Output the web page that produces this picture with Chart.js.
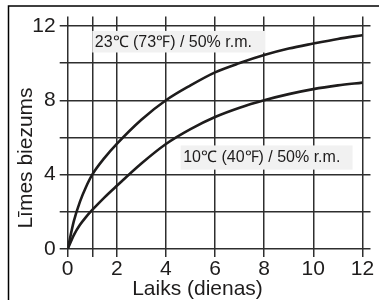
<!DOCTYPE html>
<html><head><meta charset="utf-8">
<script src="https://cdn.jsdelivr.net/npm/chart.js@4/dist/chart.umd.min.js"></script>
<style>html,body{margin:0;padding:0;background:#fff}#wrap{position:relative;width:379px;height:300px}</style>
</head><body><div id="wrap"><canvas id="c" width="379" height="300"></canvas></div>
<script>
const days = [0,0.25,0.5,0.75,1,1.5,2,3,4,5,6,7,8,9,10,11,12];
const warm = [0,1.5,2.55,3.35,4.0,4.9,5.65,6.95,8.0,8.8,9.5,10.0,10.43,10.78,11.05,11.3,11.5];
const cold = [0,0.75,1.3,1.73,2.1,2.78,3.4,4.6,5.65,6.45,7.1,7.6,8.0,8.33,8.6,8.8,8.95];
const xTicks = [0,1,2,4,6,8,10,12];
const xLabels = ['0','','2','4','6','8','10','12'];
const yTicks = [0,2,4,6,8,10,12];
const yLabels = ['0','','4','','8','','12'];
const seriesLabels = ['23\u2103 (73\u2109) / 50% r.m.','10\u2103 (40\u2109) / 50% r.m.'];
const xTitle = 'Laiks (dienas)';
const yTitle = 'Līmes biezums';

const FONT = '"Liberation Sans", Arial, sans-serif';
const INK = '#1e1c1c';

const deco = {
  id: 'deco',
  beforeDraw(chart) {
    const ctx = chart.ctx;
    ctx.save();
    ctx.fillStyle = '#fff';
    ctx.fillRect(0, 0, chart.width, chart.height);
    ctx.strokeStyle = '#000';
    ctx.lineWidth = 1.5;
    ctx.beginPath();
    ctx.moveTo(8.5, chart.height);
    ctx.lineTo(8.5, 6);
    ctx.lineTo(chart.width, 6);
    ctx.stroke();
    ctx.restore();
  },
  beforeDatasetsDraw(chart) {
    const ctx = chart.ctx, xs = chart.scales.x, ys = chart.scales.y;
    const boxes = [
      {x0: 1, x1: 8.05, y0: 11.73, y1: 10.57, t: seriesLabels[0]},
      {x0: 4.6, x1: 11.6, y0: 5.57, y1: 4.27, t: seriesLabels[1]}
    ];
    ctx.save();
    boxes.forEach(b => {
      const l = xs.getPixelForValue(b.x0), r = xs.getPixelForValue(b.x1);
      const t = ys.getPixelForValue(b.y0), bt = ys.getPixelForValue(b.y1);
      ctx.fillStyle = '#f1f1f1';
      ctx.fillRect(l, t, r - l, bt - t);
      ctx.fillStyle = INK;
      ctx.font = '16px ' + FONT;
      ctx.textAlign = 'left';
      ctx.textBaseline = 'middle';
      ctx.fillText(b.t, l + 2.5, (t + bt) / 2 + 0.5);
    });
    ctx.restore();
  },
  afterDraw(chart) {
    const ctx = chart.ctx;
    ctx.save();
    ctx.fillStyle = INK;
    ctx.font = '21px ' + FONT;
    ctx.textAlign = 'center';
    ctx.textBaseline = 'alphabetic';
    ctx.fillText(xTitle, 197.5, 294.5);
    ctx.translate(31.5, 158);
    ctx.rotate(-Math.PI / 2);
    ctx.fillText(yTitle, 0, 0);
    ctx.restore();
  }
};

const mk = arr => days.map((d, i) => ({x: d, y: arr[i]}));

new Chart(document.getElementById('c'), {
  type: 'line',
  data: {
    datasets: [
      {label: seriesLabels[0], data: mk(warm), borderColor: INK, borderWidth: 2.6, pointRadius: 0, cubicInterpolationMode: 'monotone', fill: false},
      {label: seriesLabels[1], data: mk(cold), borderColor: INK, borderWidth: 2.6, pointRadius: 0, cubicInterpolationMode: 'monotone', fill: false}
    ]
  },
  options: {
    responsive: false,
    animation: false,
    devicePixelRatio: 1,
    layout: {padding: {left: 0, right: 8.5, top: 15.7, bottom: 0}},
    plugins: {legend: {display: false}, tooltip: {enabled: false}},
    scales: {
      x: {
        type: 'linear', min: 0, max: 12.33,
        afterBuildTicks: s => { s.ticks = xTicks.map(v => ({value: v})); },
        afterFit: s => { s.height = 51; },
        ticks: {
          callback: v => xLabels[xTicks.indexOf(v)],
          font: {family: FONT, size: 21}, color: INK, padding: 0,
          maxRotation: 0, autoSkip: false
        },
        grid: {color: '#2e2e2e', lineWidth: 1.5, tickLength: 8},
        border: {display: false}
      },
      y: {
        min: 0, max: 12.5,
        afterBuildTicks: s => { s.ticks = yTicks.map(v => ({value: v})); },
        afterFit: s => { s.width = 67.7; },
        ticks: {
          callback: v => yLabels[yTicks.indexOf(v)],
          font: {family: FONT, size: 21}, color: INK, padding: 4,
          autoSkip: false
        },
        grid: {color: '#2e2e2e', lineWidth: 1.5, tickLength: 8},
        border: {display: false}
      }
    }
  },
  plugins: [deco]
});
</script>
</body></html>
